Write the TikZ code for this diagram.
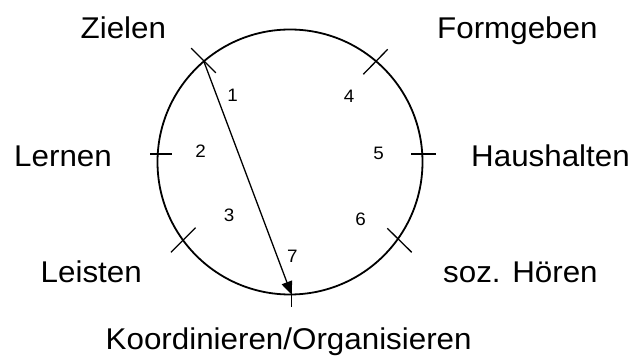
\documentclass[tikz,border=0pt]{standalone}
\usepackage{fontspec}
\setmainfont{Liberation Sans}[FakeStretch=1.045]
\usetikzlibrary{arrows.meta}
\begin{document}
\begin{tikzpicture}[x=1pt,y=-1pt,
  lbl/.style={inner sep=0pt,anchor=base west,font=\fontsize{30}{36}\selectfont},
  num/.style={inner sep=0pt,font=\fontsize{18}{22}\selectfont},
  tick/.style={line width=1.3pt},
  ring/.style={circle,draw,line width=1.8pt,minimum size=265pt,inner sep=0pt}]
\useasboundingbox (0,0) rectangle (633,358);
\node[ring] (c) at (290,162) {};
% tick centres
\coordinate (tZ) at (203.5,60.5);
\coordinate (tF) at (375.5,61.8);
\coordinate (tL) at (161,154);
\coordinate (tH) at (423.5,154);
\coordinate (tLe) at (183.3,240);
\coordinate (tS) at (399.5,240.3);
\coordinate (tK) at (291.5,295.5);
\draw[tick] ([shift={(-12.3,-12.3)}]tZ) -- ([shift={(12.3,12.3)}]tZ);
\draw[tick] ([shift={(-12.2,12.5)}]tF) -- ([shift={(12.2,-12.5)}]tF);
\draw[tick] ([shift={(-11,0)}]tL) -- ([shift={(11,0)}]tL);
\draw[tick] ([shift={(-12.5,0)}]tH) -- ([shift={(12.5,0)}]tH);
\draw[tick] ([shift={(-12.3,12.3)}]tLe) -- ([shift={(12.3,-12.3)}]tLe);
\draw[tick] ([shift={(-12.2,-12)}]tS) -- ([shift={(12.2,12)}]tS);
\draw[tick] ([shift={(0,-10.5)}]tK) -- ([shift={(0,11.2)}]tK);
% arrow
\coordinate (aEnd) at (291.5,294.5);
\draw[line width=1.3pt,-{Triangle[length=13pt,width=11pt]}] (tZ) -- (aEnd);
% numbers
\node[num] (n1) at (232.7,95) {1};
\node[num] (n2) at (200.7,151.7) {2};
\node[num] (n3) at (229,215) {3};
\node[num] (n4) at (349,96) {4};
\node[num] (n5) at (378.7,153.3) {5};
\node[num] (n6) at (360.7,219) {6};
\node[num] (n7) at (292.3,256.7) {7};
% labels
\node[lbl] (Z) at (80.5,38.3) {Zielen};
\node[lbl] (F) at (437,38.3) {Formgeben};
\node[lbl] (L) at (14,166.5) {Lernen};
\node[lbl] (H) at (471,166.3) {Haushalten};
\node[lbl] (Le) at (40.5,282.3) {Leisten};
\node[lbl] (S) at (443,282.3) {soz. Hören};
\node[lbl] (K) at (105.5,349.5) {Koordinieren/Organisieren};
\end{tikzpicture}
\end{document}
